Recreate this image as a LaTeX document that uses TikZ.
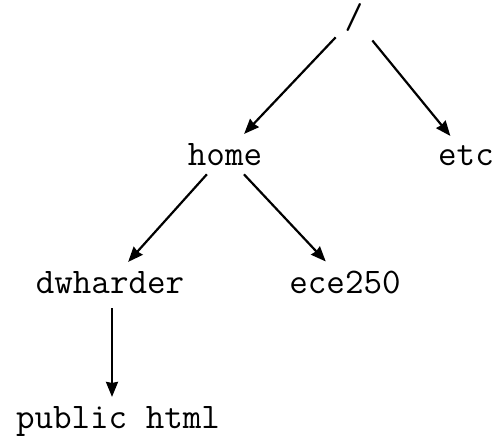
\documentclass[tikz,border=0pt]{standalone}
\usetikzlibrary{arrows.meta}
\begin{document}
\begin{tikzpicture}[>={Stealth[length=15pt,width=12pt,inset=1pt]},x=1pt,y=-1pt,line width=2.2pt,
                    dir/.style={font=\fontsize{36}{40}\selectfont\ttfamily,anchor=base,inner sep=8pt}]
                    \useasboundingbox (0,0) rectangle (496,436);
                    % directories
                    \node[dir] (root) at (354,29) {/};
                    \node[dir] (home) at (225,165) {home};
                    \node[dir] (etc) at (466,165) {etc};
                    \node[dir] (dwharder) at (110,293) {dwharder};
                    \node[dir] (ece250) at (345,293) {ece250};
                    \node[dir] (public) at (118,428) {public html};
                    % links
                    \draw[->] (root) -- (home);
                    \draw[->] (root) -- (etc);
                    \draw[->] (home) -- (dwharder);
                    \draw[->] (home) -- (ece250);
                    \draw[->,shorten <=6pt] (dwharder.south -| 112,0) -- (public.north -| 112,0);
                \end{tikzpicture}
\end{document}
